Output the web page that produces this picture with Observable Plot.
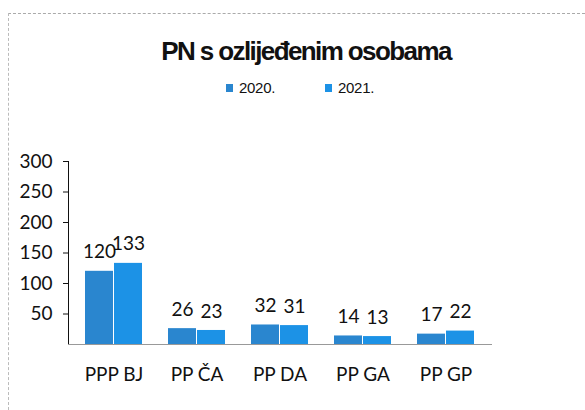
<!DOCTYPE html>
<html>
<head>
<meta charset="utf-8">
<script src="https://cdn.jsdelivr.net/npm/d3@7"></script>
<script src="https://cdn.jsdelivr.net/npm/@observablehq/plot@0.6"></script>
<style>
  html, body { margin: 0; padding: 0; background: #fff; }
  #page { position: relative; width: 585px; height: 410px; overflow: hidden; background: #fff; }
  #frameTop { position: absolute; left: 8px; top: 13px; width: 577px; border-top: 1px dashed #aaa; }
  #frameLeft { position: absolute; left: 8px; top: 13px; height: 397px; border-left: 1px dashed #bbb; }
  #title { position: absolute; left: 0; top: 38px; width: 612px; text-align: center;
           font-family: "Liberation Sans", Arial, sans-serif; font-weight: bold; font-size: 26px;
           line-height: 26px; letter-spacing: -1.6px; color: #111; white-space: nowrap; }
  #legend { position: absolute; left: 226px; top: 80px; height: 15px;
            font-family: "Liberation Sans", Arial, sans-serif; font-size: 15px; line-height: 15px; color: #111; }
  .item { position: absolute; top: 0; white-space: nowrap; }
  .sw { position: absolute; top: 4px; left: 0; width: 7px; height: 8px; }
  .lab { position: absolute; left: 13px; top: 0; letter-spacing: -0.3px; }
  #chart { position: absolute; left: 0; top: 120px; }
</style>
</head>
<body>
<div id="page">
  <div id="frameTop"></div>
  <div id="frameLeft"></div>
  <div id="title"></div>
  <div id="legend"></div>
  <div id="chart"></div>
</div>
<script>
const titleText = "PN s ozlijeđenim osobama";
const categories = ["PPP BJ", "PP ČA", "PP DA", "PP GA", "PP GP"];
const years = ["2020.", "2021."];
const values2020 = [120, 26, 32, 14, 17];
const values2021 = [133, 23, 31, 13, 22];
const yTicks = [50, 100, 150, 200, 250, 300];
const colors = ["#2a86cf", "#1c92e6"];

document.getElementById("title").textContent = titleText;
const legend = document.getElementById("legend");
years.forEach((y, i) => {
  const item = document.createElement("div");
  item.className = "item";
  item.style.left = (i * 99) + "px";
  item.innerHTML = `<span class="sw" style="background:${colors[i]}"></span><span class="lab"></span>`;
  item.querySelector(".lab").textContent = y;
  legend.appendChild(item);
});

const data = categories.flatMap((c, i) => [
  {cat: c, year: years[0], value: values2020[i]},
  {cat: c, year: years[1], value: values2021[i]}
]);
const d2020 = data.filter(d => d.year === years[0]);
const d2021 = data.filter(d => d.year === years[1]);

const chart = Plot.plot({
  width: 585,
  height: 290,
  marginLeft: 68,
  marginRight: 93,
  marginTop: 41,
  marginBottom: 66,
  style: {fontFamily: "Lato, sans-serif", fontSize: "19px", color: "#111", background: "transparent"},
  x: {domain: categories, paddingInner: 0.31, paddingOuter: 0.18, tickSize: 0, tickPadding: 23, label: null},
  y: {domain: [0, 300], ticks: yTicks, tickSize: 5, tickPadding: 11, line: true, label: null},
  color: {domain: years, range: colors},
  marks: [
    Plot.barY(d2020, {x: "cat", y: "value", fill: "year", insetRight: 29}),
    Plot.barY(d2021, {x: "cat", y: "value", fill: "year", insetLeft: 29}),
    Plot.ruleY([0], {stroke: "#999"}),
    Plot.text(d2020, {x: "cat", y: "value", text: d => String(d.value), dx: -14.5, dy: -19, fill: "#111"}),
    Plot.text(d2021, {x: "cat", y: "value", text: d => String(d.value), dx: 14.5, dy: -19, fill: "#111"})
  ]
});
document.getElementById("chart").appendChild(chart);
</script>
</body>
</html>
